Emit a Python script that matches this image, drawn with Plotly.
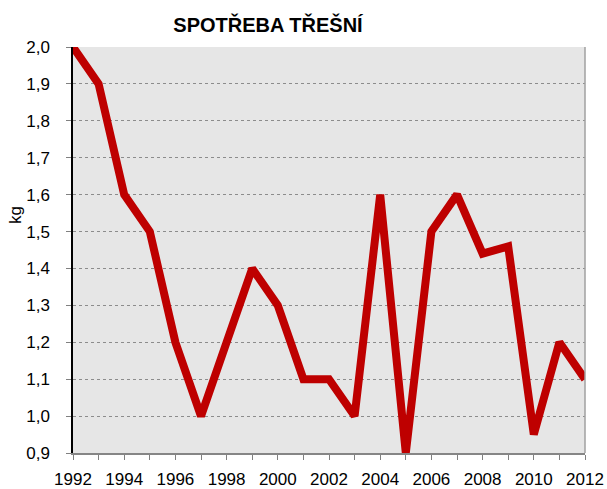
import plotly.graph_objects as go

years = list(range(1992, 2013))
values = [2.0, 1.9, 1.6, 1.5, 1.2, 1.0, 1.2, 1.4, 1.3, 1.1, 1.1, 1.0, 1.6, 0.9,
          1.5, 1.6, 1.44, 1.46, 0.95, 1.2, 1.1]
x_tick_vals = list(range(1992, 2013, 2))
y_tick_vals = [0.9, 1.0, 1.1, 1.2, 1.3, 1.4, 1.5, 1.6, 1.7, 1.8, 1.9, 2.0]

fig = go.Figure()
fig.add_trace(go.Scatter(x=years, y=values, mode="lines",
                         line=dict(color="#BE0000", width=8)))

W, H = 607, 489
L, R, T, B = 73, 22, 47, 36
font_family = "Liberation Sans, Arial, sans-serif"
fig.update_layout(
    width=W, height=H,
    margin=dict(l=L, r=R, t=T, b=B, autoexpand=False),
    paper_bgcolor="white",
    plot_bgcolor="#E6E6E6",
    separators=",.",
    showlegend=False,
    title=dict(text="<b>SPOTŘEBA TŘEŠNÍ</b>", x=268 / W, xanchor="center",
               y=1 - 25 / H, yanchor="middle",
               font=dict(family=font_family, size=20, color="black")),
    font=dict(family=font_family, size=17, color="black"),
)
fig.update_xaxes(
    range=[1992, 2012], automargin=False,
    tickmode="array", tickvals=x_tick_vals,
    ticks="outside", ticklen=5, tickcolor="#808080",
    minor=dict(dtick=1, tick0=1992, ticks="outside", ticklen=5, tickcolor="#808080", showgrid=False),
    showgrid=False, zeroline=False,
    showline=True, linecolor="#868686", linewidth=1.5,
    tickfont=dict(size=17), ticklabelstandoff=5,
)
fig.update_yaxes(
    range=[0.9, 2.0], automargin=False,
    tickmode="array", tickvals=y_tick_vals, tickformat=".1f",
    ticks="outside", ticklen=5, tickcolor="#808080",
    showgrid=True, gridcolor="#8C8C8C", griddash="dot", gridwidth=1.2,
    zeroline=False,
    showline=True, linecolor="black", linewidth=1.5,
    tickfont=dict(size=17), ticklabelstandoff=13,
)
fig.add_annotation(text="kg", xref="paper", yref="paper",
                   x=(15 - L) / (W - L - R), y=(H - B - 215) / (H - T - B),
                   xanchor="center", yanchor="middle", textangle=-90,
                   showarrow=False, font=dict(size=17))
fig.add_shape(type="line", xref="paper", yref="paper", x0=1, x1=1, y0=0, y1=1,
              line=dict(color="#A0A0A0", width=1.5))

fig.write_html("out.html", config={"displayModeBar": False},
               post_script="document.body.style.margin='0';document.body.style.overflow='hidden';")
